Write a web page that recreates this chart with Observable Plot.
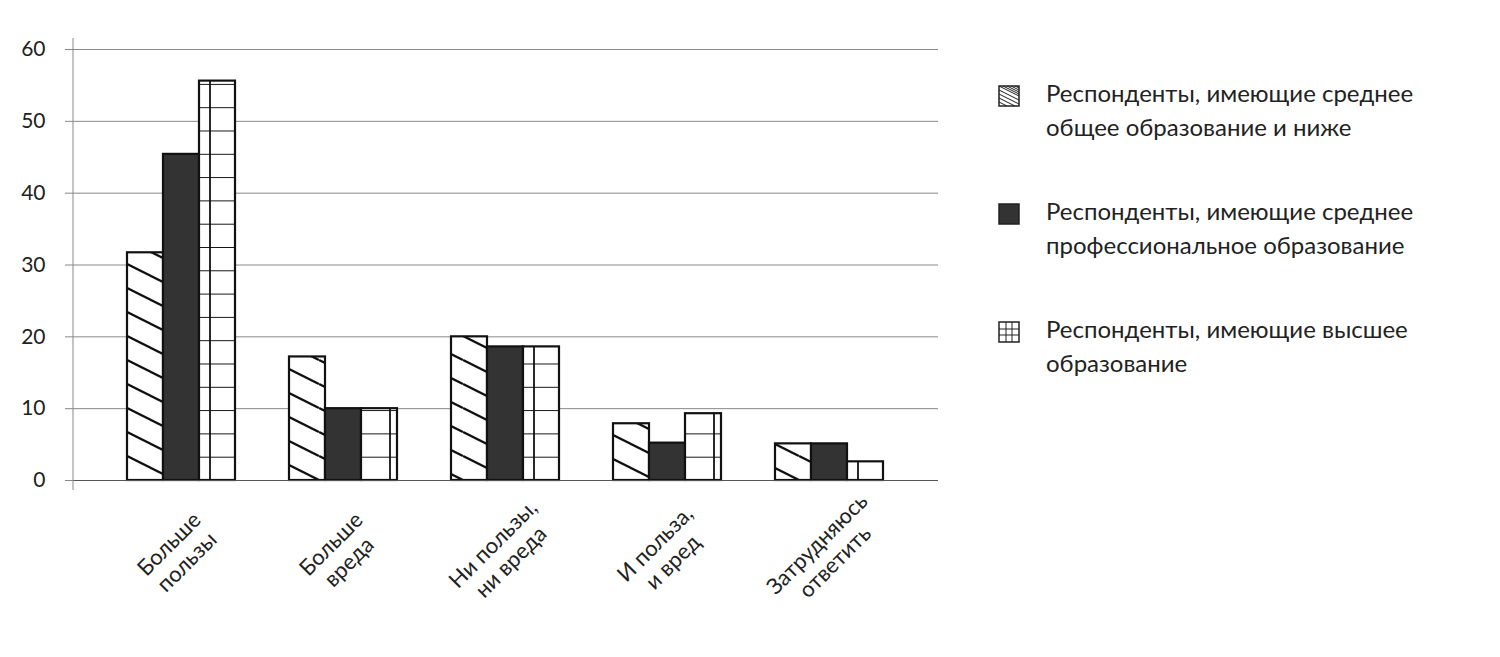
<!DOCTYPE html>
<html><head><meta charset="utf-8">
<script src="https://cdn.jsdelivr.net/npm/d3@7"></script>
<script src="https://cdn.jsdelivr.net/npm/@observablehq/plot@0.6"></script>
<style>
body{margin:0;background:#fff;font-family:Lato,"Noto Sans",sans-serif;}
#wrap{position:relative;width:1500px;height:657px;}
#legend{position:absolute;left:998px;top:76px;font-size:24px;color:#222;line-height:34px;}
.item{display:flex;align-items:flex-start;margin-bottom:50px;}
.sw{width:22px;height:22px;margin-top:5px;margin-right:26px;flex:none;}
</style></head><body>
<div id="wrap"><div id="chart"></div>
<div id="legend"></div></div>
<script>
const categories = ["Больше\nпользы","Больше\nвреда","Ни пользы,\nни вреда","И польза,\nи вред","Затрудняюсь\nответить"];
const seriesNames = ["Респонденты, имеющие среднее общее образование и ниже","Респонденты, имеющие среднее профессиональное образование","Респонденты, имеющие высшее образование"];
const secondary = [31.7,17.2,20.0,7.9,5.1];
const vocational = [45.4,10.0,18.6,5.2,5.1];
const higher = [55.6,10.0,18.6,9.3,2.6];
const yTicks = [0,10,20,30,40,50,60];

const series = [secondary, vocational, higher];
const fills = ["url(#hatch)","#333","url(#grid)"];
const insets = [[0,72],[36,36],[72,0]];
const plot = Plot.plot({
  width:1500, height:657, marginLeft:73, marginRight:562, marginTop:49, marginBottom:177,
  style:{fontFamily:"Lato, 'Noto Sans', sans-serif", fontSize:"21px", color:"#222", background:"transparent"},
  x:{domain:categories, padding:0.333, axis:null},
  y:{domain:[0,60], ticks:yTicks, tickSize:8, tickPadding:20, label:null, tickFormat:d=>d},
  marks:[
    Plot.ruleY(yTicks, {stroke:"#888", strokeWidth:1}),
    ...series.map((vals,s)=>Plot.rectY(categories.map((c,i)=>({c,v:vals[i]})), {
      x:"c", y:"v", fill:fills[s], stroke:"#111", strokeWidth:2.2,
      insetLeft:insets[s][0], insetRight:insets[s][1]})),
    Plot.ruleY([0], {stroke:"#555", strokeWidth:1.2}),
    Plot.text(categories, {x:d=>d, y:0, text:d=>d, dy:72, dx:-4, rotate:-45, textAnchor:"middle", lineAnchor:"middle", fontSize:22, fill:"#222", lineHeight:1.15})
  ]
});
const svg = d3.select(plot);
svg.selectAll("[aria-label='y-axis tick'] path").attr("stroke","#888");
svg.append("line").attr("x1",73).attr("x2",73).attr("y1",38).attr("y2",490).attr("stroke","#888");
const defs = svg.insert("defs",":first-child");
const h = defs.append("pattern").attr("id","hatch").attr("patternUnits","userSpaceOnUse").attr("width",48).attr("height",24).attr("x",127).attr("y",0);
h.append("rect").attr("width",48).attr("height",24).attr("fill","#fff");
[-24,0,24].forEach(o=>h.append("line").attr("x1",0).attr("y1",o).attr("x2",48).attr("y2",o+24).attr("stroke","#111").attr("stroke-width",2.4));
const g = defs.append("pattern").attr("id","grid").attr("patternUnits","userSpaceOnUse").attr("width",36).attr("height",23.3).attr("x",199).attr("y",480);
g.append("rect").attr("width",36).attr("height",23.3).attr("fill","#fff");
g.append("line").attr("x1",11).attr("x2",11).attr("y1",0).attr("y2",23.3).attr("stroke","#111").attr("stroke-width",1.8);
g.append("line").attr("x1",0).attr("x2",36).attr("y1",0).attr("y2",0).attr("stroke","#111").attr("stroke-width",1.8);
document.getElementById("chart").appendChild(plot);
// legend
const lsvgs = [
 '<svg width="22" height="22"><defs><pattern id="lh" patternUnits="userSpaceOnUse" width="22" height="4"><line x1="0" y1="-4" x2="8" y2="0" stroke="#222"/><line x1="0" y1="0" x2="8" y2="4" stroke="#222"/><line x1="0" y1="4" x2="8" y2="8" stroke="#222"/></pattern></defs><rect x="1" y="1" width="20" height="20" fill="#fff" stroke="#222" stroke-width="1.5"/><g clip-path="inset(0)"><path d="M1,1L21,11M1,5L21,15M1,9L21,19M1,13L17,21M1,17L9,21M5,1L21,9M9,1L21,7M13,1L21,5M17,1L21,3" stroke="#222" stroke-width="1"/></g></svg>',
 '<svg width="22" height="22"><rect x="1" y="1" width="20" height="20" fill="#333" stroke="#222" stroke-width="1.5"/></svg>',
 '<svg width="22" height="22"><rect x="1" y="1" width="20" height="20" fill="#fff" stroke="#222" stroke-width="1.5"/><path d="M8,1V21M14,1V21M1,8H21M1,14H21" stroke="#222" stroke-width="1"/></svg>'
];
const lines = [["Респонденты, имеющие среднее","общее образование и ниже"],["Респонденты, имеющие среднее","профессиональное образование"],["Респонденты, имеющие высшее","образование"]];
const leg = document.getElementById("legend");
lines.forEach((l,i)=>{
  const it=document.createElement("div");it.className="item";
  const sw=document.createElement("div");sw.className="sw";sw.innerHTML=lsvgs[i];
  const t=document.createElement("div");t.innerHTML=l.join("<br>");t.title=seriesNames[i];
  it.appendChild(sw);it.appendChild(t);leg.appendChild(it);
});
</script></body></html>
